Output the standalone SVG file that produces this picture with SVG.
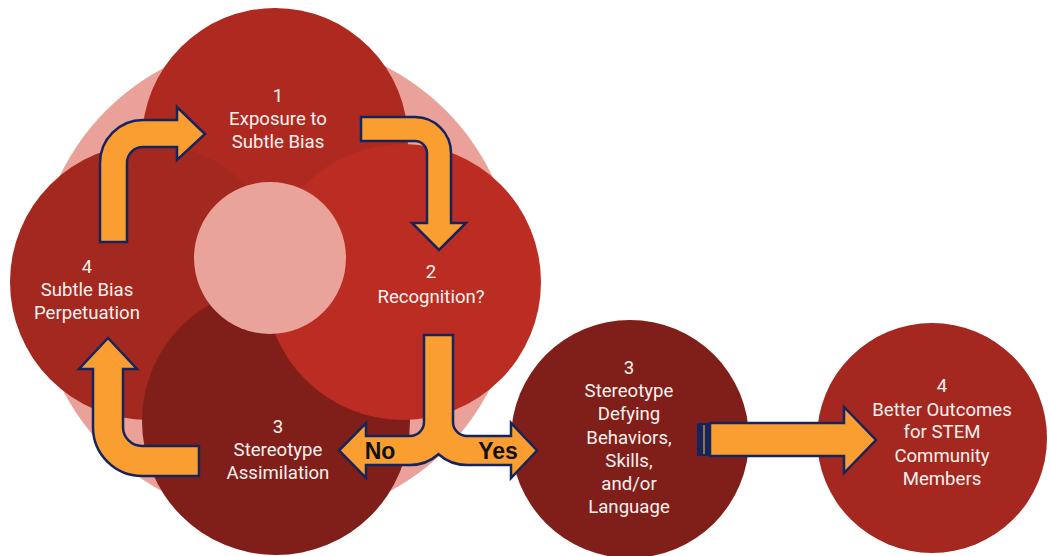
<svg xmlns="http://www.w3.org/2000/svg" width="1050" height="556" viewBox="0 0 1050 556">
  <style>
    .lbl { font-family: Roboto, "Liberation Sans", sans-serif; font-size: 18.6px; font-weight: 400; fill: #fdf1ef; text-anchor: middle; }
    .arrow { fill: #fa9e31; stroke: #14245c; stroke-width: 2.5; stroke-linejoin: miter; }
    .branch { font-family: "Liberation Sans", Arial, sans-serif; font-weight: bold; font-size: 23px; fill: #111111; text-anchor: middle; }
  </style>

  <rect width="1050" height="556" fill="#ffffff"/>

  <!-- halo behind the cycle -->
  <circle id="halo" cx="276" cy="280" r="240" fill="#e9a19a"/>

  <g id="node-exposure">
    <circle cx="275" cy="141" r="133" fill="#ae2a21"/>
    <text class="lbl" x="278" y="102">1</text>
    <text class="lbl" x="278" y="125">Exposure to</text>
    <text class="lbl" x="278" y="148">Subtle Bias</text>
  </g>

  <g id="node-perpetuation">
    <circle cx="148" cy="282" r="138" fill="#a3281f"/>
    <text class="lbl" x="87" y="273">4</text>
    <text class="lbl" x="87" y="296">Subtle Bias</text>
    <text class="lbl" x="87" y="319">Perpetuation</text>
  </g>

  <g id="node-assimilation">
    <circle cx="276" cy="421" r="134" fill="#801f19"/>
    <text class="lbl" x="278" y="433">3</text>
    <text class="lbl" x="278" y="456">Stereotype</text>
    <text class="lbl" x="278" y="479">Assimilation</text>
  </g>

  <g id="node-recognition">
    <circle cx="403" cy="282" r="138" fill="#bb2d22"/>
    <text class="lbl" x="431" y="278">2</text>
    <text class="lbl" x="431" y="303">Recognition?</text>
  </g>

  <circle id="hub" cx="270" cy="258" r="76" fill="#eaa39b"/>

  <g id="node-defying">
    <circle cx="630" cy="439" r="119" fill="#801f19"/>
    <text class="lbl" x="629" y="374">3</text>
    <text class="lbl" x="629" y="397">Stereotype</text>
    <text class="lbl" x="629" y="420">Defying</text>
    <text class="lbl" x="629" y="444">Behaviors,</text>
    <text class="lbl" x="629" y="467">Skills,</text>
    <text class="lbl" x="629" y="490">and/or</text>
    <text class="lbl" x="629" y="513">Language</text>
  </g>

  <g id="node-outcomes">
    <circle cx="932" cy="438" r="115" fill="#a4281f"/>
    <text class="lbl" x="942" y="392">4</text>
    <text class="lbl" x="942" y="416">Better Outcomes</text>
    <text class="lbl" x="942" y="438">for STEM</text>
    <text class="lbl" x="942" y="462">Community</text>
    <text class="lbl" x="942" y="485">Members</text>
  </g>

  <g id="connectors">
    <!-- 4 -> 1 -->
    <path class="arrow" d="M100,242 L100,163 A43,43 0 0 1 143,120 L177,120 L177,107 L205,134 L177,160 L177,147 L143,147 A16,16 0 0 0 127,163 L127,242 Z"/>
    <!-- 1 -> 2 -->
    <path class="arrow" d="M361,117 L415,117 A36,36 0 0 1 451,153 L451,223 L466,223 L439,250 L412,223 L427,223 L427,153 A12,12 0 0 0 415,141 L361,141 Z"/>
    <!-- 3 -> 4 -->
    <path class="arrow" d="M199,446 L142,446 A19,19 0 0 1 123,427 L123,369 L137,369 L108,338 L79,369 L93,369 L93,427 A49,49 0 0 0 142,476 L199,476 Z"/>
    <!-- 2 -> No / Yes -->
    <path class="arrow" d="M424,335 L424,422 A14,14 0 0 1 410,436 L366,436 L366,423 L339,450.5 L366,478 L366,465 L410,465 A43,43 0 0 0 438.5,454.2 A43,43 0 0 0 467,465 L511,465 L511,478 L537,450.5 L511,423 L511,436 L467,436 A14,14 0 0 1 453,422 L453,335 Z"/>
    <text class="branch" x="380" y="459">No</text>
    <text class="branch" x="498" y="459">Yes</text>
    <!-- defying -> outcomes -->
    <rect x="697" y="423" width="13" height="33" fill="#14245c"/>
    <line x1="704" y1="425" x2="704" y2="454" stroke="#fa9e31" stroke-width="1.2"/>
    <path class="arrow" d="M710,423 L844,423 L844,407 L876,440 L844,473 L844,456 L710,456 Z"/>
  </g>
</svg>
